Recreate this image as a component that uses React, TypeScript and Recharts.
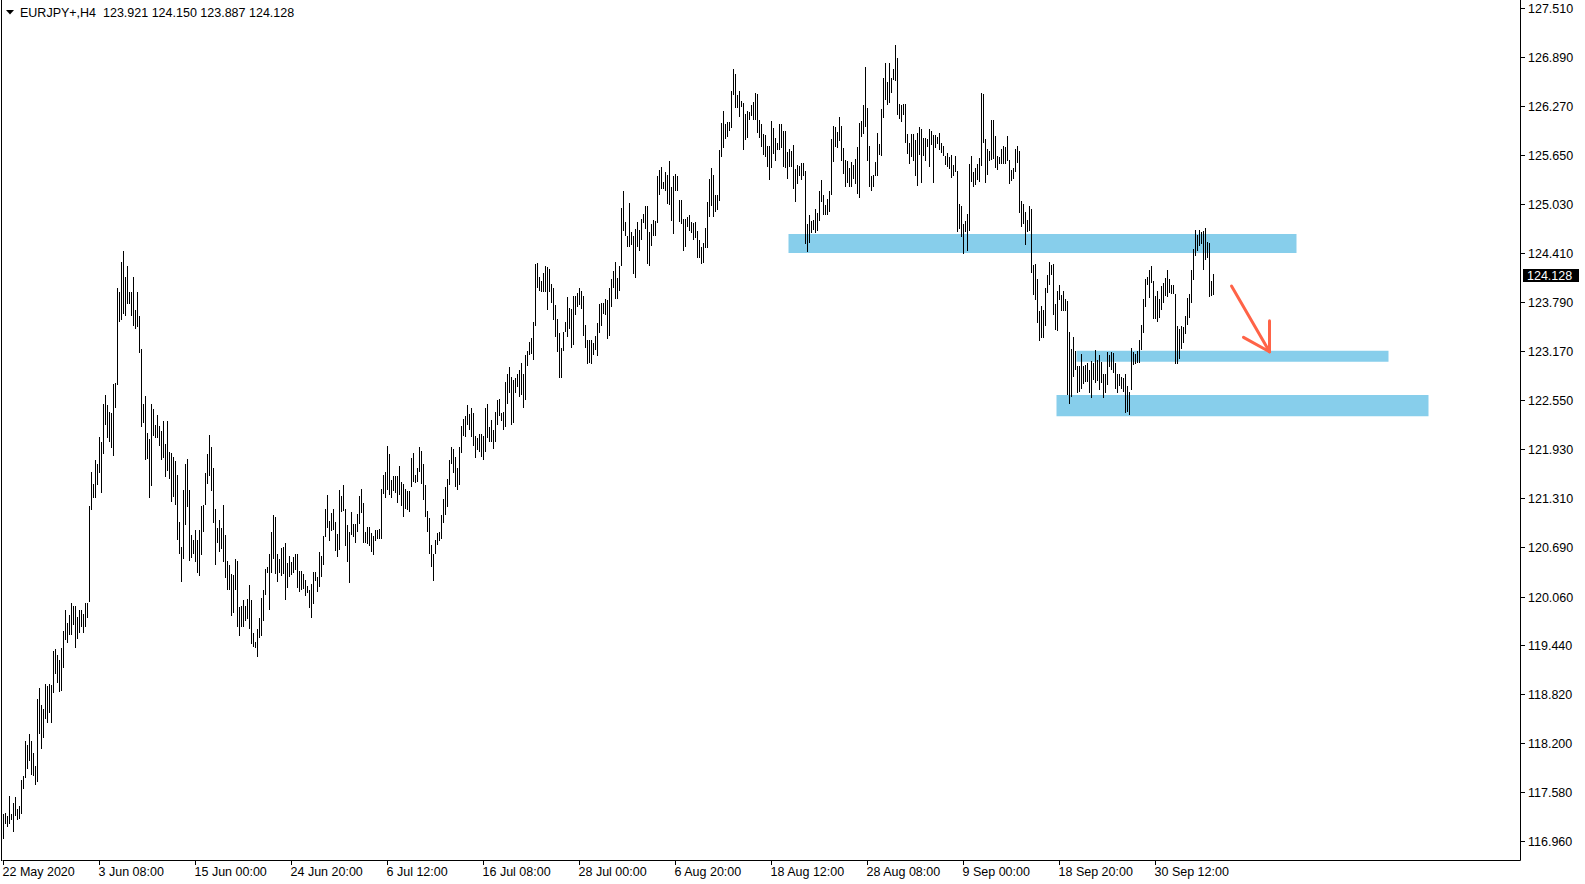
import React from 'react';
import { ComposedChart, Bar, XAxis, YAxis, ReferenceArea, ReferenceLine } from 'recharts';

// H4 bar highs / lows, oldest first
const highs = [
  117.31, 117.33, 117.29, 117.54, 117.31, 117.45, 117.53, 117.38, 117.41, 117.74,
  117.79, 118.23, 118.19, 118.32, 118.23, 118.09, 117.92, 118.77, 118.91, 118.69,
  118.64, 118.96, 118.93, 118.96, 118.94, 119.38, 119.40, 119.32, 119.26, 119.41,
  119.63, 119.90, 119.73, 119.83, 119.98, 119.95, 119.95, 119.81, 119.90, 119.90,
  119.85, 119.98, 119.99, 121.21, 121.64, 121.49, 121.80, 121.75, 122.09, 122.02,
  122.51, 122.62, 122.49, 122.41, 122.39, 122.76, 122.77, 123.98, 123.92, 124.31,
  124.44, 124.12, 124.26, 123.92, 123.92, 124.12, 123.70, 123.92, 123.62, 123.20,
  122.51, 122.61, 122.14, 122.06, 122.51, 122.44, 122.24, 122.37, 122.23, 122.16,
  122.29, 122.00, 122.29, 121.90, 121.88, 121.83, 121.78, 121.61, 121.01, 120.69,
  121.42, 121.75, 121.81, 121.42, 120.85, 120.78, 120.91, 120.78, 120.91, 121.21,
  121.23, 121.63, 121.87, 122.11, 121.96, 121.69, 121.17, 120.94, 121.04, 120.94,
  121.23, 120.85, 120.52, 120.47, 120.35, 120.34, 120.54, 120.52, 119.93, 119.95,
  120.02, 119.95, 120.04, 120.21, 120.02, 119.60, 119.49, 119.66, 119.80, 120.05,
  120.15, 120.42, 120.44, 120.61, 120.88, 121.10, 121.08, 120.61, 120.54, 120.68,
  120.70, 120.75, 120.49, 120.58, 120.51, 120.57, 120.61, 120.61, 120.39, 120.39,
  120.35, 120.28, 120.20, 120.15, 120.23, 120.38, 120.38, 120.31, 120.63, 120.58,
  120.83, 121.18, 121.35, 121.02, 121.12, 121.18, 121.01, 120.86, 121.42, 121.34,
  121.48, 121.18, 120.97, 120.89, 121.14, 120.99, 120.99, 121.11, 121.34, 121.43,
  121.25, 120.89, 120.95, 120.95, 120.87, 120.83, 120.91, 120.91, 120.92, 121.43,
  121.61, 121.65, 121.97, 121.87, 121.54, 121.59, 121.59, 121.59, 121.72, 121.52,
  121.49, 121.43, 121.40, 121.40, 121.82, 121.89, 121.61, 121.69, 121.96, 121.91,
  121.75, 121.48, 121.15, 121.06, 120.72, 120.61, 120.78, 120.87, 120.89, 121.10,
  121.30, 121.45, 121.55, 121.80, 121.96, 121.93, 121.83, 121.69, 121.96, 122.23,
  122.31, 122.35, 122.49, 122.38, 122.45, 122.39, 122.10, 122.07, 122.13, 122.13,
  122.10, 122.46, 122.50, 122.21, 122.30, 122.18, 122.41, 122.56, 122.57, 122.39,
  122.41, 122.78, 122.89, 122.97, 122.85, 122.81, 122.84, 122.89, 122.93, 123.02,
  122.89, 123.13, 123.18, 123.29, 123.34, 123.54, 124.28, 124.29, 124.11, 124.07,
  124.17, 124.25, 124.24, 124.22, 124.02, 123.97, 123.76, 123.58, 123.41, 123.22,
  123.42, 123.54, 123.86, 123.72, 123.71, 123.88, 123.88, 123.91, 123.98, 123.94,
  123.88, 123.51, 123.32, 123.32, 123.32, 123.28, 123.37, 123.53, 123.77, 123.78,
  123.79, 123.84, 123.82, 123.98, 124.09, 124.19, 124.31, 124.10, 124.25, 124.99,
  125.20, 124.81, 124.63, 125.05, 124.68, 124.63, 124.72, 124.81, 124.71, 124.85,
  124.91, 125.01, 125.01, 124.68, 124.79, 124.84, 124.82, 125.39, 125.47, 125.51,
  125.32, 125.45, 125.41, 125.59, 125.26, 125.39, 125.42, 125.39, 125.09, 125.09,
  124.85, 124.85, 124.88, 124.90, 124.81, 124.80, 124.81, 124.70, 124.58, 124.49,
  124.54, 124.74, 125.07, 125.36, 125.49, 125.41, 125.15, 125.15, 125.72, 126.07,
  126.22, 126.05, 126.08, 126.08, 126.47, 126.75, 126.69, 126.42, 126.47, 126.35,
  126.32, 126.18, 126.22, 126.21, 126.29, 126.33, 126.44, 126.43, 126.10, 126.05,
  125.93, 125.91, 125.77, 125.77, 126.09, 126.00, 125.88, 125.81, 126.05, 126.05,
  125.96, 125.97, 125.70, 125.74, 125.71, 125.79, 125.48, 125.53, 125.52, 125.56,
  125.56, 125.46, 124.79, 124.90, 124.83, 124.84, 124.98, 124.93, 125.20, 125.34,
  125.15, 125.03, 125.10, 125.20, 125.86, 126.03, 126.02, 125.95, 126.14, 126.03,
  125.75, 125.60, 125.58, 125.50, 125.57, 125.53, 125.61, 125.76, 126.06, 126.09,
  126.30, 126.77, 126.26, 125.77, 125.39, 125.41, 125.57, 125.94, 125.80, 126.24,
  126.64, 126.83, 126.58, 126.82, 126.64, 126.75, 127.06, 126.89, 126.31, 126.30,
  126.31, 126.31, 125.92, 125.81, 125.92, 125.93, 125.85, 125.94, 126.01, 125.99,
  125.88, 125.88, 125.86, 125.99, 125.96, 125.91, 125.91, 125.89, 125.94, 125.81,
  125.77, 125.65, 125.69, 125.63, 125.66, 125.53, 125.65, 125.46, 125.04, 125.01,
  124.79, 124.82, 124.91, 125.55, 125.65, 125.44, 125.50, 125.55, 125.62, 126.45,
  126.43, 125.86, 125.74, 125.71, 126.11, 126.11, 125.90, 125.65, 125.64, 125.73,
  125.77, 125.76, 125.90, 125.60, 125.47, 125.49, 125.74, 125.77, 125.71, 125.08,
  125.04, 124.94, 124.84, 125.01, 124.98, 124.27, 124.28, 124.09, 123.69, 123.75,
  123.70, 123.98, 124.14, 124.31, 124.27, 124.28, 123.77, 123.94, 124.01, 123.89,
  123.94, 123.84, 123.81, 123.42, 123.20, 123.36, 123.18, 122.99, 122.99, 123.14,
  122.99, 123.00, 123.02, 122.94, 123.05, 123.03, 123.19, 123.06, 123.13, 123.04,
  122.89, 122.89, 123.17, 123.13, 123.16, 123.15, 123.02, 122.89, 122.89, 122.85,
  122.83, 122.89, 122.73, 122.66, 123.21, 123.17, 123.14, 123.18, 123.32, 123.51,
  123.84, 124.09, 124.12, 124.20, 124.25, 124.06, 123.87, 123.94, 123.84, 124.00,
  124.04, 124.10, 124.20, 124.09, 124.01, 124.01, 123.90, 123.49, 123.45, 123.49,
  123.48, 123.62, 123.85, 123.90, 124.20, 124.47, 124.71, 124.65, 124.71, 124.68,
  124.70, 124.73, 124.56, 124.55, 124.06, 124.15,
];

const lows = [
  116.99, 117.19, 117.15, 117.19, 117.24, 117.08, 117.29, 117.24, 117.25, 117.31,
  117.63, 117.77, 117.88, 117.98, 117.81, 117.79, 117.68, 117.72, 118.32, 118.13,
  118.27, 118.52, 118.47, 118.59, 118.47, 118.84, 119.09, 118.97, 118.86, 118.87,
  119.16, 119.51, 119.48, 119.58, 119.58, 119.70, 119.41, 119.53, 119.61, 119.68,
  119.61, 119.68, 119.79, 120.00, 121.16, 121.31, 121.31, 121.48, 121.63, 121.38,
  121.87, 122.24, 122.07, 122.02, 121.95, 121.85, 122.45, 122.75, 123.55, 123.57,
  123.65, 123.62, 123.77, 123.77, 123.62, 123.49, 123.45, 123.48, 123.15, 122.21,
  122.26, 121.80, 121.81, 121.31, 121.47, 122.10, 122.07, 122.07, 121.97, 121.80,
  121.82, 121.58, 121.66, 121.56, 121.27, 121.33, 121.23, 120.78, 120.60, 120.25,
  120.54, 120.97, 121.20, 120.52, 120.55, 120.60, 120.50, 120.36, 120.33, 120.59,
  120.88, 121.22, 121.49, 121.59, 121.40, 121.00, 120.47, 120.75, 120.63, 120.67,
  120.50, 120.30, 120.15, 120.15, 119.82, 119.86, 120.15, 119.68, 119.57, 119.68,
  119.68, 119.76, 119.78, 119.66, 119.47, 119.43, 119.42, 119.30, 119.54, 119.56,
  119.75, 120.09, 120.36, 119.90, 120.36, 120.54, 120.35, 120.25, 120.37, 120.33,
  120.35, 120.02, 120.18, 120.31, 120.34, 120.36, 120.40, 120.17, 120.13, 120.15,
  120.16, 120.07, 120.11, 119.92, 119.80, 119.97, 120.26, 120.12, 120.19, 120.32,
  120.47, 120.82, 120.94, 120.77, 120.90, 120.91, 120.64, 120.57, 120.66, 121.14,
  121.15, 120.71, 120.50, 120.24, 120.85, 120.82, 120.75, 120.89, 120.99, 121.13,
  120.74, 120.74, 120.73, 120.71, 120.63, 120.59, 120.77, 120.80, 120.80, 120.80,
  121.37, 121.31, 121.42, 121.35, 121.32, 121.40, 121.38, 121.25, 121.35, 121.21,
  121.07, 121.18, 121.16, 121.14, 121.46, 121.52, 121.50, 121.52, 121.65, 121.49,
  121.29, 121.07, 120.89, 120.61, 120.44, 120.26, 120.61, 120.72, 120.77, 120.80,
  121.00, 121.10, 121.20, 121.48, 121.75, 121.63, 121.45, 121.42, 121.48, 121.89,
  122.10, 122.09, 122.24, 122.17, 122.09, 121.97, 121.82, 121.92, 121.90, 121.84,
  121.80, 121.90, 122.07, 122.03, 122.02, 121.93, 122.03, 122.24, 122.35, 122.29,
  122.18, 122.22, 122.51, 122.64, 122.24, 122.26, 122.65, 122.72, 122.59, 122.62,
  122.46, 122.56, 122.99, 123.13, 123.14, 123.06, 123.49, 123.98, 123.94, 123.92,
  123.93, 123.93, 123.70, 123.93, 123.78, 123.57, 123.36, 123.16, 122.83, 122.84,
  123.18, 123.42, 123.35, 123.46, 123.21, 123.25, 123.63, 123.74, 123.76, 123.71,
  123.37, 123.22, 123.01, 123.03, 123.01, 123.13, 123.19, 123.11, 123.40, 123.49,
  123.65, 123.63, 123.33, 123.37, 123.73, 123.97, 123.83, 123.84, 123.94, 124.25,
  124.70, 124.63, 124.50, 124.50, 124.52, 124.15, 124.10, 124.50, 124.45, 124.58,
  124.80, 124.72, 124.28, 124.26, 124.51, 124.63, 124.64, 124.80, 125.15, 125.23,
  125.23, 125.21, 125.04, 125.03, 124.83, 124.66, 125.21, 125.20, 124.81, 124.79,
  124.45, 124.49, 124.75, 124.70, 124.67, 124.58, 124.61, 124.36, 124.35, 124.28,
  124.29, 124.48, 124.48, 124.87, 125.01, 124.87, 124.94, 124.96, 125.08, 125.63,
  125.75, 125.86, 125.89, 125.96, 126.00, 126.42, 126.25, 126.26, 126.14, 126.27,
  125.72, 125.85, 125.88, 126.10, 126.16, 126.11, 126.10, 125.94, 125.88, 125.76,
  125.66, 125.64, 125.51, 125.34, 125.49, 125.67, 125.58, 125.72, 125.72, 125.75,
  125.51, 125.49, 125.35, 125.51, 125.51, 125.23, 125.07, 125.29, 125.39, 125.34,
  125.39, 124.53, 124.43, 124.55, 124.67, 124.71, 124.67, 124.70, 124.83, 125.06,
  124.90, 124.90, 124.90, 124.94, 125.15, 125.57, 125.76, 125.75, 125.84, 125.58,
  125.42, 125.25, 125.30, 125.26, 125.26, 125.36, 125.29, 125.16, 125.12, 125.89,
  125.92, 126.02, 125.58, 125.25, 125.20, 125.26, 125.39, 125.40, 125.66, 125.65,
  126.13, 126.36, 126.30, 126.32, 126.45, 126.61, 126.60, 126.17, 126.12, 126.08,
  126.17, 125.81, 125.67, 125.55, 125.64, 125.58, 125.40, 125.27, 125.66, 125.30,
  125.65, 125.58, 125.76, 125.51, 125.79, 125.30, 125.75, 125.80, 125.72, 125.69,
  125.65, 125.53, 125.51, 125.48, 125.37, 125.40, 125.44, 124.69, 124.72, 124.62,
  124.41, 124.69, 124.44, 124.70, 125.32, 125.26, 125.28, 125.34, 125.32, 125.52,
  125.81, 125.30, 125.41, 125.58, 125.60, 125.61, 125.49, 125.47, 125.55, 125.55,
  125.55, 125.55, 125.59, 125.29, 125.33, 125.35, 125.44, 125.56, 124.92, 124.75,
  124.79, 124.52, 124.68, 124.70, 124.17, 123.89, 123.82, 123.53, 123.31, 123.34,
  123.34, 123.49, 123.91, 124.01, 124.14, 123.63, 123.44, 123.43, 123.82, 123.68,
  123.68, 123.68, 122.62, 122.51, 122.60, 122.85, 122.94, 122.65, 122.66, 122.70,
  122.76, 122.79, 122.79, 122.65, 122.58, 122.81, 122.77, 122.80, 122.68, 122.77,
  122.58, 122.64, 122.75, 122.98, 122.94, 122.90, 122.70, 122.65, 122.73, 122.70,
  122.66, 122.39, 122.41, 122.37, 122.68, 123.00, 123.01, 123.02, 123.03, 123.19,
  123.41, 123.73, 124.01, 123.85, 124.04, 123.58, 123.58, 123.55, 123.60, 123.70,
  123.78, 123.87, 123.86, 123.91, 123.90, 123.90, 123.01, 123.01, 123.08, 123.20,
  123.28, 123.39, 123.51, 123.59, 123.78, 124.08, 124.38, 124.45, 124.51, 124.53,
  124.20, 124.33, 124.36, 123.86, 123.87, 123.89,
];

// last bar O H L C shown in the header
const lastQuote = [123.921, 124.15, 123.887, 124.128];
const symbolName = 'EURJPY+,H4';

const timeLabels = [
  '22 May 2020', '3 Jun 08:00', '15 Jun 00:00', '24 Jun 20:00', '6 Jul 12:00',
  '16 Jul 08:00', '28 Jul 00:00', '6 Aug 20:00', '18 Aug 12:00', '28 Aug 08:00',
  '9 Sep 00:00', '18 Sep 20:00', '30 Sep 12:00',
];
const timeLabelBars = [0, 48, 96, 144, 192, 240, 288, 336, 384, 432, 480, 528, 576];

const priceTicks = [
  127.51, 126.89, 126.27, 125.65, 125.03, 124.41, 123.79, 123.17, 122.55,
  121.93, 121.31, 120.69, 120.06, 119.44, 118.82, 118.2, 117.58, 116.96,
];

// support / resistance zones drawn on the chart (bar slots, price)
const zones = [
  { from: 393, to: 646, top: 124.66, bottom: 124.42 },
  { from: 537, to: 692, top: 123.18, bottom: 123.04 },
  { from: 527, to: 712, top: 122.62, bottom: 122.35 },
];

const arrowLines = [
  [{ x: 614, y: 124.0 }, { x: 633, y: 123.168 }],
  [{ x: 633, y: 123.168 }, { x: 620, y: 123.35 }],
  [{ x: 633, y: 123.168 }, { x: 633, y: 123.561 }],
];

const SLOTS = 759;
const Y_MAX = 127.624;
const Y_MIN = 116.722;
const FONT = '"Liberation Sans", Arial, sans-serif';
const FONT_SIZE = 12.5;

const data = Array.from({ length: SLOTS }, (_, i) => ({
  i,
  range: i < highs.length ? [lows[i], highs[i]] : null,
}));

const HiLoBar = (props: any) => {
  const { x, y, width, height } = props;
  if (![x, y, width, height].every((v) => Number.isFinite(v))) return null;
  const cx = Math.floor(x + width / 2);
  const top = Math.round(Math.min(y, y + height));
  const bottom = Math.round(Math.max(y, y + height));
  return <rect x={cx} y={top} width={1} height={Math.max(1, bottom - top)} fill="#000" />;
};

const renderXTick = (props: any) => {
  const { x, payload } = props;
  const k = timeLabelBars.indexOf(payload.value);
  if (k < 0) return <g />;
  const px = Math.floor(x) + 0.5;
  return (
    <g>
      <line x1={px} x2={px} y1={861} y2={865} stroke="#000" />
      <text x={px - 1} y={876} fontFamily={FONT} fontSize={FONT_SIZE} fill="#000">
        {timeLabels[k]}
      </text>
    </g>
  );
};

const renderYTick = (props: any) => {
  const { y, payload } = props;
  const v = payload.value;
  if (v === lastQuote[3]) {
    return (
      <g>
        <rect x={1523} y={Math.round(y) - 7} width={56} height={13} fill="#000" />
        <text x={1527} y={Math.round(y) + 4} fontFamily={FONT} fontSize={FONT_SIZE} fill="#fff">
          {v.toFixed(3)}
        </text>
      </g>
    );
  }
  const py = Math.floor(y) + 0.5;
  return (
    <g>
      <line x1={1521} x2={1525} y1={py} y2={py} stroke="#000" />
      <text x={1528} y={py + 4} fontFamily={FONT} fontSize={FONT_SIZE} fill="#000">
        {v.toFixed(3)}
      </text>
    </g>
  );
};

export default function App() {
  const header = `${symbolName}  ${lastQuote.map((v) => v.toFixed(3)).join(' ')}`;
  return (
    <div style={{ position: 'absolute', left: 0, top: 0, width: 1585, height: 884, background: '#fff' }}>
      <ComposedChart
        width={1585}
        height={884}
        data={data}
        margin={{ top: 0, right: 0, bottom: 0, left: 2.5 }}
        barCategoryGap={0}
        barGap={0}
      >
        <XAxis
          dataKey="i"
          type="category"
          ticks={timeLabelBars}
          interval={0}
          tick={renderXTick}
          tickLine={false}
          axisLine={{ stroke: '#000' }}
          height={23.5}
        />
        <YAxis
          orientation="right"
          type="number"
          domain={[Y_MIN, Y_MAX]}
          allowDataOverflow
          ticks={[...priceTicks, lastQuote[3]]}
          interval={0}
          tick={renderYTick}
          tickLine={false}
          axisLine={{ stroke: '#000' }}
          width={64.5}
        />
        {zones.map((z, k) => (
          <ReferenceArea
            key={`zone-${k}`}
            x1={z.from}
            x2={z.to}
            y1={z.bottom}
            y2={z.top}
            fill="#87CEEB"
            fillOpacity={1}
            stroke="none"
            ifOverflow="visible"
          />
        ))}
        <Bar dataKey="range" shape={HiLoBar} isAnimationActive={false} />
        {arrowLines.map((seg, k) => (
          <ReferenceLine
            key={`arrow-${k}`}
            segment={seg}
            stroke="#FF6347"
            strokeWidth={3}
            strokeLinecap="round"
            ifOverflow="visible"
          />
        ))}
      </ComposedChart>
      <svg
        width={1585}
        height={884}
        style={{ position: 'absolute', left: 0, top: 0, pointerEvents: 'none' }}
      >
        <line x1={1.5} x2={1.5} y1={0} y2={861} stroke="#000" />
        <polygon points="6,10 14,10 10,14.5" fill="#000" />
        <text x={20} y={17} fontFamily={FONT} fontSize={FONT_SIZE} fill="#000" style={{ whiteSpace: 'pre' }}>
          {header}
        </text>
      </svg>
    </div>
  );
}
